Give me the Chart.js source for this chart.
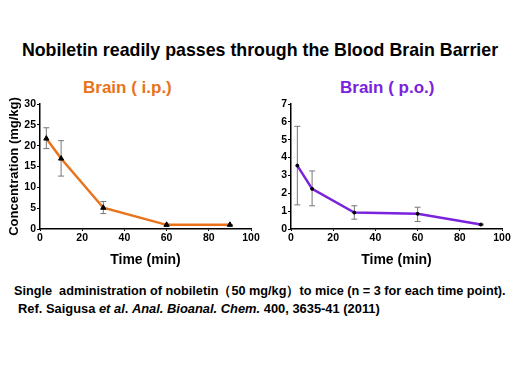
<!DOCTYPE html>
<html>
<head>
<meta charset="utf-8">
<script src="https://cdn.jsdelivr.net/npm/chart.js@4"></script>
<style>
body{margin:0;width:520px;height:390px;background:#fff;position:relative;overflow:hidden;font-family:"Liberation Sans",Arial,sans-serif;}
.t{position:absolute;white-space:nowrap;font-weight:bold;color:#000;}
#title{left:0;width:520px;text-align:center;top:40px;font-size:17.8px;}
#sub1{left:83px;top:78px;font-size:17px;color:#e8731a;}
#sub2{left:340px;top:78px;font-size:17px;color:#7b22dc;}
#n1{left:14px;top:283px;font-size:12.7px;}
#n2{left:18px;top:301px;font-size:12.9px;}
canvas{position:absolute;}
#c1{left:0;top:95px;}
#c2{left:265px;top:95px;}
</style>
</head>
<body>
<div class="t" id="title">Nobiletin readily passes through the Blood Brain Barrier</div>
<div class="t" id="sub1">Brain ( i.p.)</div>
<div class="t" id="sub2">Brain ( p.o.)</div>
<div class="t" id="n1">Single&nbsp; administration of nobiletin（50 mg/kg）to mice (n = 3 for each time point).</div>
<div class="t" id="n2">Ref. Saigusa <i>et al</i>. <i>Anal. Bioanal. Chem.</i> 400, 3635-41 (2011)</div>
<canvas id="c1" width="265" height="180"></canvas>
<canvas id="c2" width="255" height="180"></canvas>
<script>
// time points (min)
var times=[3,10,30,60,90];
// brain i.p.
var ip=[21.7,16.9,5.1,1.0,1.0];
var ipHi=[24.3,21.2,6.6,1.2,1.1];
var ipLo=[19.3,12.7,3.7,0.8,0.9];
// brain p.o.
var po=[3.55,2.25,0.92,0.85,0.25];
var poHi=[5.75,3.25,1.3,1.22,0.28];
var poLo=[1.35,1.3,0.55,0.42,0.22];

function pts(ys){
    var out=[];
    for(var i=0;i<times.length;i++){ out.push({x:times[i],y:ys[i]}); }
    return out;
}

var errPlugin={
    id:'err',
    beforeDatasetsDraw(chart){
        var e=chart.options.plugins.err;
        var ctx=chart.ctx, xs=chart.scales.x, ys=chart.scales.y;
        ctx.save();
        ctx.strokeStyle='#777';
        ctx.lineWidth=1;
        for(var i=0;i<times.length;i++){
            var px=xs.getPixelForValue(times[i]);
            var h=ys.getPixelForValue(e.hi[i]), l=ys.getPixelForValue(e.lo[i]);
            ctx.beginPath();
            ctx.moveTo(px,h);ctx.lineTo(px,l);
            ctx.moveTo(px-3,h);ctx.lineTo(px+3,h);
            ctx.moveTo(px-3,l);ctx.lineTo(px+3,l);
            ctx.stroke();
        }
        ctx.restore();
    }
};

var fam='"Liberation Sans",Arial,sans-serif';
var tickFont={family:fam,size:10.5,weight:'bold'};

function make(id,data,hi,lo,color,ymax,ystep,ywidth,padLeft,padRight,ptStyle,ptRad,ytitle){
    var yScale={
        min:0,max:ymax,
        ticks:{stepSize:ystep,color:'#000',font:tickFont,padding:1},
        grid:{drawOnChartArea:false,drawTicks:true,tickLength:3,color:'#000'},
        border:{color:'#000',width:1.5},
        afterFit:function(s){s.width=ywidth;}
    };
    if(ytitle){
        yScale.title={display:true,text:ytitle,color:'#000',padding:{top:0,bottom:0},
            font:{family:fam,size:13,weight:'bold',lineHeight:1.1}};
    }
    return new Chart(document.getElementById(id),{
        type:'line',
        data:{datasets:[{
            data:pts(data),
            borderColor:color,
            borderWidth:2.5,
            pointStyle:ptStyle,
            pointRadius:ptRad,
            pointBackgroundColor:'#000',
            pointBorderColor:'#000',
            pointBorderWidth:1,
            tension:0,
            fill:false
        }]},
        options:{
            responsive:false,
            animation:false,
            events:[],
            layout:{padding:{top:9,right:padRight,left:padLeft,bottom:6}},
            plugins:{legend:{display:false},tooltip:{enabled:false},err:{hi:hi,lo:lo}},
            scales:{
                x:{
                    type:'linear',min:0,max:100,
                    ticks:{stepSize:20,color:'#000',font:tickFont,padding:1,maxRotation:0},
                    grid:{drawOnChartArea:false,drawTicks:true,tickLength:2,color:'#000'},
                    border:{color:'#000',width:1.5},
                    title:{display:true,text:'Time (min)',color:'#000',padding:{top:2,bottom:0},
                        font:{family:fam,size:14,weight:'bold'}},
                    afterFit:function(s){s.height=40;}
                },
                y:yScale
            }
        },
        plugins:[errPlugin]
    });
}

make('c1',ip,ipHi,ipLo,'#e8731a',30,5,33,7,14,'triangle',3,'Concentration (mg/kg)');
make('c2',po,poHi,poLo,'#7b22dc',7,1,26,0,18,'circle',1.5,null);
</script>
</body>
</html>
